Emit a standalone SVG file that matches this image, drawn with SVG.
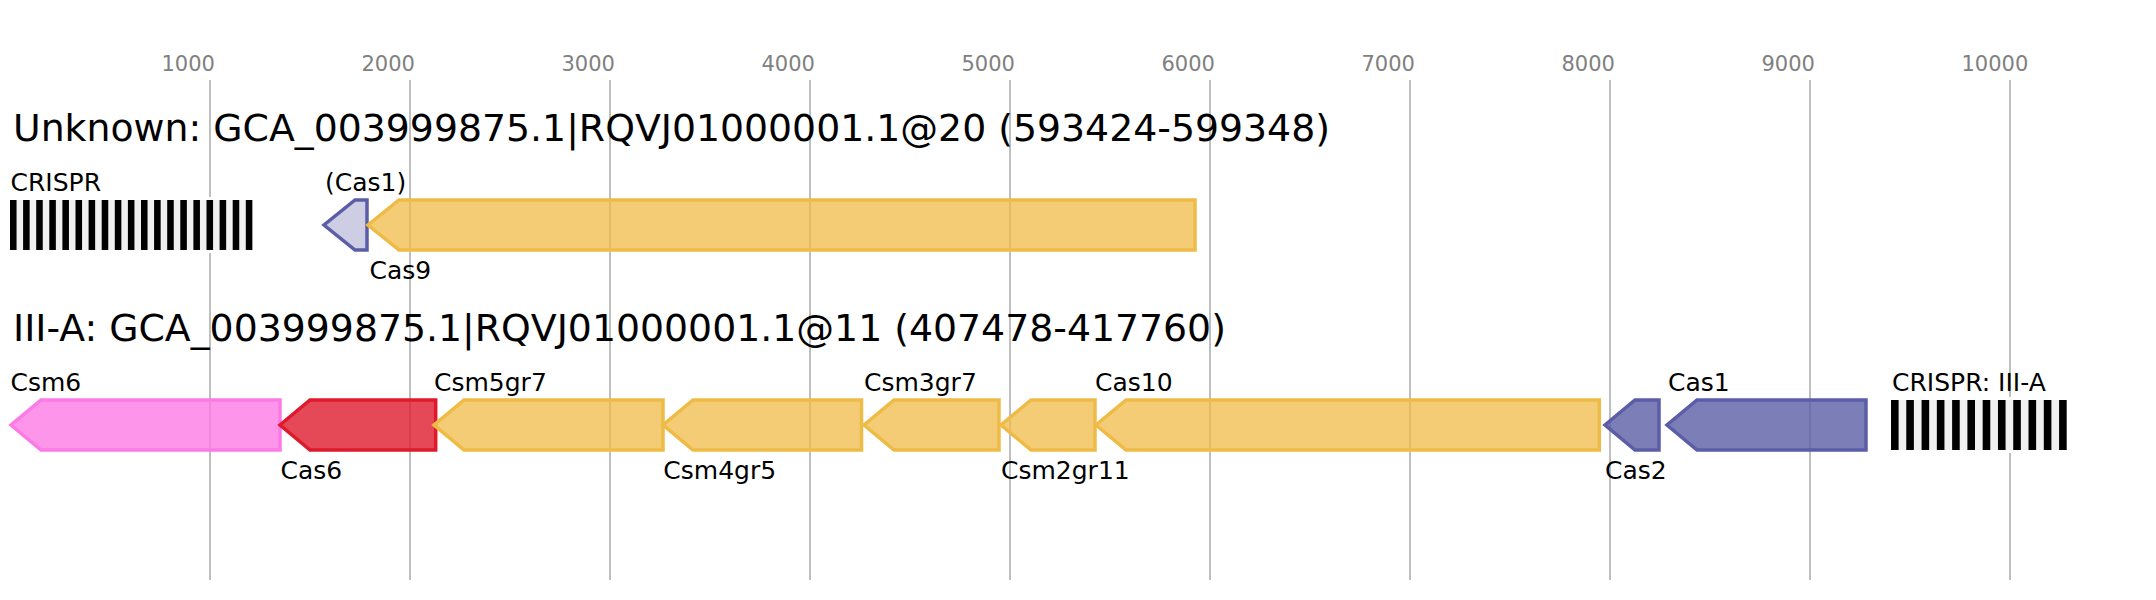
<svg xmlns="http://www.w3.org/2000/svg" width="2156" height="600" viewBox="0 0 2156 600">
<style>
text{font-family:"DejaVu Sans",Verdana,sans-serif;fill:#000}
.tick{font-size:21px;fill:#808080}
.title{font-size:37.8px}
.lbl{font-size:25px}
.grid{stroke:#bfbfbf;stroke-width:2}
.g{stroke-width:3.5;stroke-linejoin:miter}
.y{fill:#efbb47;fill-opacity:.75;stroke:#efbb47}
.r{fill:#de1a2d;fill-opacity:.8;stroke:#de1a2d}
.p{fill:#fc7ae5;fill-opacity:.8;stroke:#fc7ae5}
.b{fill:#5b5ea6;fill-opacity:.8;stroke:#5b5ea6}
.bl{fill:#5b5ea6;fill-opacity:.3;stroke:#5b5ea6}
.crbg{fill:#f0f0f0}
.bar{fill:#000}
</style>
<rect width="2156" height="600" fill="#fff"/>
<g id="axis">
<line class="grid" x1="210" y1="80" x2="210" y2="580"/>
<line class="grid" x1="410" y1="80" x2="410" y2="580"/>
<line class="grid" x1="610" y1="80" x2="610" y2="580"/>
<line class="grid" x1="810" y1="80" x2="810" y2="580"/>
<line class="grid" x1="1010" y1="80" x2="1010" y2="580"/>
<line class="grid" x1="1210" y1="80" x2="1210" y2="580"/>
<line class="grid" x1="1410" y1="80" x2="1410" y2="580"/>
<line class="grid" x1="1610" y1="80" x2="1610" y2="580"/>
<line class="grid" x1="1810" y1="80" x2="1810" y2="580"/>
<line class="grid" x1="2010" y1="80" x2="2010" y2="580"/>
<text class="tick" x="161.5" y="70.7">1000</text>
<text class="tick" x="361.5" y="70.7">2000</text>
<text class="tick" x="561.5" y="70.7">3000</text>
<text class="tick" x="761.5" y="70.7">4000</text>
<text class="tick" x="961.5" y="70.7">5000</text>
<text class="tick" x="1161.5" y="70.7">6000</text>
<text class="tick" x="1361.5" y="70.7">7000</text>
<text class="tick" x="1561.5" y="70.7">8000</text>
<text class="tick" x="1761.5" y="70.7">9000</text>
<text class="tick" x="1961.5" y="70.7">10000</text>
</g>
<g id="connectors"></g>
<text class="title" x="13" y="141">Unknown: GCA_003999875.1|RQVJ01000001.1@20 (593424-599348)</text>
<text class="title" x="13" y="341">III-A: GCA_003999875.1|RQVJ01000001.1@11 (407478-417760)</text>

<g id="crispr1">
<rect x="10" y="197" width="242.3" height="56" fill="#fff"/>
<rect class="crbg" x="10" y="200" width="242.3" height="50"/>
<g class="bar">
<rect x="10" y="200" width="6.55" height="50"/><rect x="23.1" y="200" width="6.55" height="50"/><rect x="36.2" y="200" width="6.55" height="50"/><rect x="49.3" y="200" width="6.55" height="50"/><rect x="62.4" y="200" width="6.55" height="50"/><rect x="75.5" y="200" width="6.55" height="50"/><rect x="88.6" y="200" width="6.55" height="50"/><rect x="101.7" y="200" width="6.55" height="50"/><rect x="114.8" y="200" width="6.55" height="50"/><rect x="127.9" y="200" width="6.55" height="50"/><rect x="141" y="200" width="6.55" height="50"/><rect x="154.1" y="200" width="6.55" height="50"/><rect x="167.2" y="200" width="6.55" height="50"/><rect x="180.3" y="200" width="6.55" height="50"/><rect x="193.4" y="200" width="6.55" height="50"/><rect x="206.5" y="200" width="6.55" height="50"/><rect x="219.6" y="200" width="6.55" height="50"/><rect x="232.7" y="200" width="6.55" height="50"/><rect x="245.8" y="200" width="6.55" height="50"/>
</g>
<text class="lbl" x="10.5" y="190.7">CRISPR</text>
</g>
<g id="cas1a">
<polygon class="g bl" points="367,200 355,200 324,225 355,250 367,250"/>
<text class="lbl" x="325" y="190.7">(Cas1)</text>
</g>
<g id="cas9">
<polygon class="g y" points="1195,200 399,200 368,225 399,250 1195,250"/>
<text class="lbl" x="369.5" y="279">Cas9</text>
</g>

<g id="csm6">
<polygon class="g p" points="280,400 41,400 11,425 41,450 280,450"/>
<text class="lbl" x="10.5" y="390.7">Csm6</text>
</g>
<g id="cas6">
<polygon class="g r" points="435.7,400 310,400 280,425 310,450 435.7,450"/>
<text class="lbl" x="280.5" y="479">Cas6</text>
</g>
<g id="csm5gr7">
<polygon class="g y" points="663,400 464,400 434,425 464,450 663,450"/>
<text class="lbl" x="434" y="390.7">Csm5gr7</text>
</g>
<g id="csm4gr5">
<polygon class="g y" points="861.5,400 693,400 663,425 693,450 861.5,450"/>
<text class="lbl" x="663.3" y="479">Csm4gr5</text>
</g>
<g id="csm3gr7">
<polygon class="g y" points="999,400 894,400 864,425 894,450 999,450"/>
<text class="lbl" x="864" y="390.7">Csm3gr7</text>
</g>
<g id="csm2gr11">
<polygon class="g y" points="1095,400 1031,400 1001,425 1031,450 1095,450"/>
<text class="lbl" x="1001" y="479">Csm2gr11</text>
</g>
<g id="cas10">
<polygon class="g y" points="1599.3,400 1126,400 1096,425 1126,450 1599.3,450"/>
<text class="lbl" x="1095" y="390.7">Cas10</text>
</g>
<g id="cas2">
<polygon class="g b" points="1659,400 1635,400 1605,425 1635,450 1659,450"/>
<text class="lbl" x="1605" y="479">Cas2</text>
</g>
<g id="cas1">
<polygon class="g b" points="1866,400 1697,400 1667,425 1697,450 1866,450"/>
<text class="lbl" x="1668" y="390.7">Cas1</text>
</g>
<g id="crispr2">
<rect x="1891" y="397" width="175.7" height="56" fill="#fff"/>
<rect class="crbg" x="1891" y="400" width="175.7" height="50"/>
<g class="bar">
<rect x="1891" y="400" width="7.6" height="50"/><rect x="1906.28" y="400" width="7.6" height="50"/><rect x="1921.56" y="400" width="7.6" height="50"/><rect x="1936.84" y="400" width="7.6" height="50"/><rect x="1952.12" y="400" width="7.6" height="50"/><rect x="1967.4" y="400" width="7.6" height="50"/><rect x="1982.68" y="400" width="7.6" height="50"/><rect x="1997.96" y="400" width="7.6" height="50"/><rect x="2013.24" y="400" width="7.6" height="50"/><rect x="2028.52" y="400" width="7.6" height="50"/><rect x="2043.8" y="400" width="7.6" height="50"/><rect x="2059.08" y="400" width="7.6" height="50"/>
</g>
<text class="lbl" x="1892" y="390.7">CRISPR: III-A</text>
</g>
</svg>
